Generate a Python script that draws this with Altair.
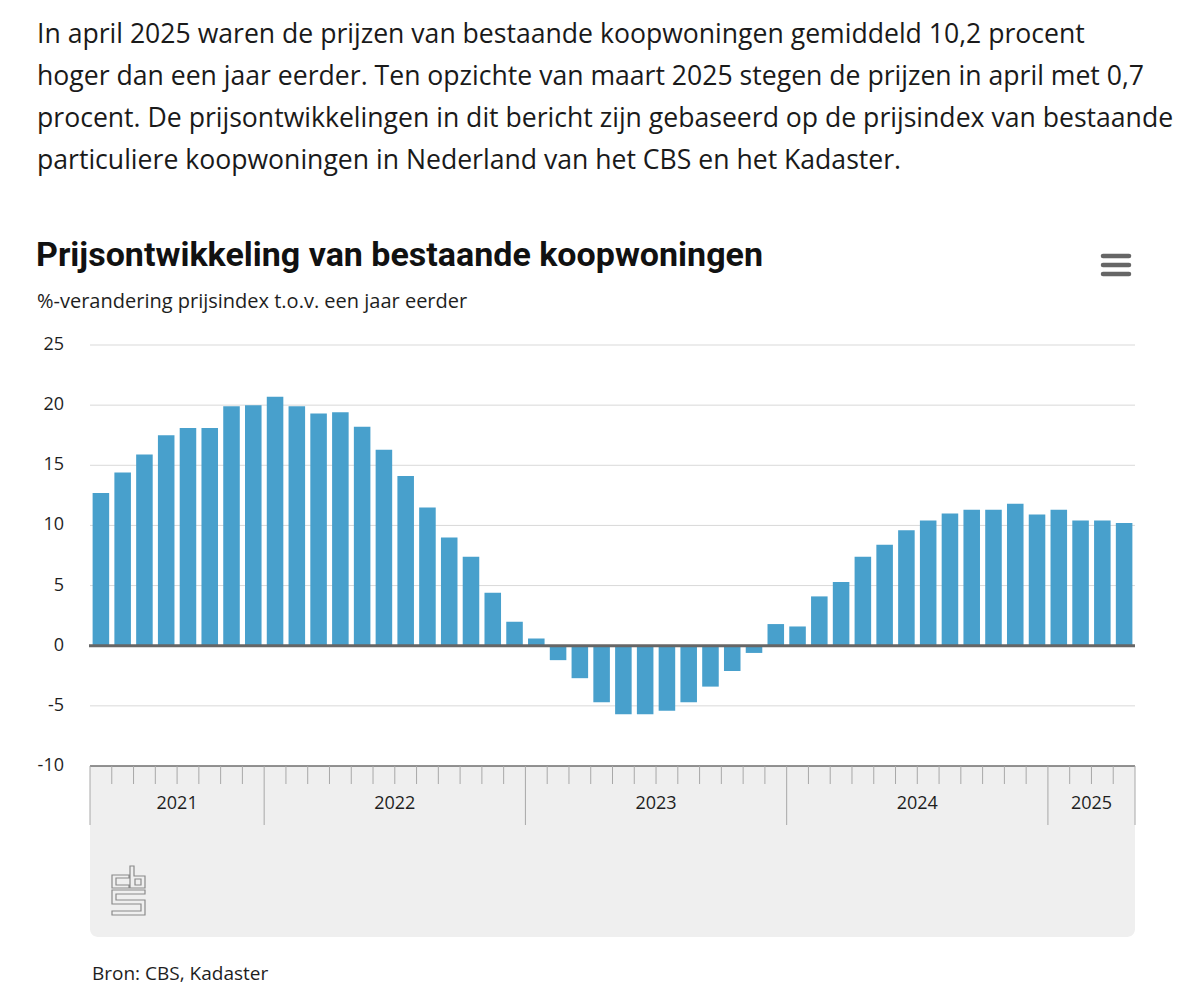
import altair as alt
import pandas as pd

# Yearly groups shown on the x axis and the number of months per group
years = ["2021", "2022", "2023", "2024", "2025"]
months_in_year = [8, 12, 12, 12, 4]
first_month = [5, 1, 1, 1, 1]

# %-change of the price index compared with one year earlier (May 2021 - April 2025)
change = [
    12.7, 14.4, 15.9, 17.5, 18.1, 18.1, 19.9, 20.0,
    20.7, 19.9, 19.3, 19.4, 18.2, 16.3, 14.1, 11.5, 9.0, 7.4, 4.4, 2.0,
    0.6, -1.2, -2.7, -4.7, -5.7, -5.7, -5.4, -4.7, -3.4, -2.1, -0.6, 1.8,
    1.6, 4.1, 5.3, 7.4, 8.4, 9.6, 10.4, 11.0, 11.3, 11.3, 11.8, 10.9,
    11.3, 10.4, 10.4, 10.2,
]

y_ticks = [-10, -5, 0, 5, 10, 15, 20, 25]
y_tick_labels = ["-10", "-5", "0", "5", "10", "15", "20", "25"]

paragraph = [
    "In april 2025 waren de prijzen van bestaande koopwoningen gemiddeld 10,2 procent",
    "hoger dan een jaar eerder. Ten opzichte van maart 2025 stegen de prijzen in april met 0,7",
    "procent. De prijsontwikkelingen in dit bericht zijn gebaseerd op de prijsindex van bestaande",
    "particuliere koopwoningen in Nederland van het CBS en het Kadaster.",
]
title = "Prijsontwikkeling van bestaande koopwoningen"
subtitle = "%-verandering prijsindex t.o.v. een jaar eerder"
source = "Bron: CBS, Kadaster"

# ---- tables -------------------------------------------------------------
rows = []
for yr, n, m0 in zip(years, months_in_year, first_month):
    for k in range(n):
        rows.append({"periode": f"{yr}-{m0 + k:02d}"})
bars = pd.DataFrame(rows)
bars["idx"] = range(len(bars))
bars["x0"] = bars["idx"] + 0.12
bars["x1"] = bars["idx"] + 0.88
bars["waarde"] = change

n_months = len(bars)
boundaries = []
year_mid = []
pos = 0
for yr, n in zip(years, months_in_year):
    year_mid.append({"jaar": yr, "mid": pos + n / 2})
    boundaries.append({"b": pos, "soort": "jaar"})
    for k in range(1, n):
        boundaries.append({"b": pos + k, "soort": "maand"})
    pos += n
boundaries.append({"b": pos, "soort": "jaar"})
bounds = pd.DataFrame(boundaries)
mids = pd.DataFrame(year_mid)
ticks = pd.DataFrame({"v": y_ticks, "label": y_tick_labels})
grid = pd.DataFrame({"v": [t for t in y_ticks if t not in (-10, 0)]})

# ---- scales mapped straight onto page pixels -----------------------------
L, R, TOP, BOT = 90, 1135, 345, 766
xs = alt.Scale(domain=[0, n_months], range=[L, R], nice=False, zero=False)
ys = alt.Scale(domain=[-10, 25], range=[BOT, TOP], nice=False, zero=False)

FONT = "Open Sans"
one = pd.DataFrame({"a": [0]})

strip = alt.Chart(one).mark_rect(
    color="#efefef", cornerRadiusBottomLeft=8, cornerRadiusBottomRight=8
).encode(x=alt.value(L), x2=alt.value(R), y=alt.value(BOT), y2=alt.value(937))

gridlines = alt.Chart(grid).mark_rule(color="#d9d9d9", strokeWidth=1).encode(
    x=alt.value(L), x2=alt.value(R), y=alt.Y("v:Q", scale=ys, axis=None)
)

base_line = alt.Chart(pd.DataFrame({"v": [-10]})).mark_rule(
    color="#6e6e6e", strokeWidth=1.5
).encode(x=alt.value(L), x2=alt.value(R), y=alt.Y("v:Q", scale=ys, axis=None))

month_ticks = alt.Chart(bounds).transform_filter(
    alt.datum.soort == "maand"
).mark_rule(color="#a8a8a8", strokeWidth=1).encode(
    x=alt.X("b:Q", scale=xs, axis=None), y=alt.value(BOT), y2=alt.value(784)
)

year_ticks = alt.Chart(bounds).transform_filter(
    alt.datum.soort == "jaar"
).mark_rule(color="#a8a8a8", strokeWidth=1).encode(
    x=alt.X("b:Q", scale=xs, axis=None), y=alt.value(BOT), y2=alt.value(825)
)

columns = alt.Chart(bars).mark_rect(color="#48a0cc").encode(
    x=alt.X("x0:Q", scale=xs, axis=None),
    x2="x1:Q",
    y=alt.Y("waarde:Q", scale=ys, axis=None),
    y2=alt.datum(0),
    tooltip=["periode:N", "waarde:Q"],
)

zero_line = alt.Chart(pd.DataFrame({"v": [0]})).mark_rule(
    color="#666666", strokeWidth=3
).encode(x=alt.value(L - 1), x2=alt.value(R), y=alt.Y("v:Q", scale=ys, axis=None))

y_labels = alt.Chart(ticks).mark_text(
    align="right", baseline="middle", font=FONT, fontSize=18, color="#1e1e1e"
).encode(
    x=alt.value(64), y=alt.Y("v:Q", scale=ys, axis=None), text="label:N"
)

year_labels = alt.Chart(mids).mark_text(
    align="center", baseline="middle", font=FONT, fontSize=18, color="#1e1e1e"
).encode(x=alt.X("mid:Q", scale=xs, axis=None), y=alt.value(804), text="jaar:N")

intro = alt.Chart(one).mark_text(
    align="left", baseline="alphabetic", font=FONT, fontSize=26.6,
    lineHeight=42, color="#1a1a1a"
).encode(x=alt.value(37), y=alt.value(43), text=alt.value(paragraph))

head = alt.Chart(one).mark_text(
    align="left", baseline="alphabetic", font="Roboto", fontSize=34,
    fontWeight="bold", color="#111111"
).encode(x=alt.value(36), y=alt.value(266), text=alt.value(title))

sub = alt.Chart(one).mark_text(
    align="left", baseline="alphabetic", font=FONT, fontSize=20, color="#1e1e1e"
).encode(x=alt.value(37), y=alt.value(308), text=alt.value(subtitle))

bron = alt.Chart(one).mark_text(
    align="left", baseline="alphabetic", font=FONT, fontSize=19, color="#1e1e1e"
).encode(x=alt.value(92), y=alt.value(980), text=alt.value(source))

menu = alt.Chart(pd.DataFrame({"py": [256, 265, 274]})).mark_rule(
    color="#666666", strokeWidth=4.5, strokeCap="round"
).encode(
    x=alt.value(1103), x2=alt.value(1129),
    y=alt.Y("py:Q", scale=None, axis=None),
)

# CBS logo outline, built from pixel polylines and normalised to a symbol path
cx, cy, r = 128.5, 890.5, 25.5
shapes = [
    [(129, 875), (112, 875), (112, 888), (129, 888), (129, 885), (116, 885), (116, 878), (129, 878)],
    [(130, 866), (134, 866), (134, 876), (145, 876), (145, 888), (130, 888)],
    [(135, 879), (141, 879), (141, 885), (135, 885)],
    [(145, 890), (112, 890), (112, 904), (141, 904), (141, 911), (112, 911),
     (112, 915), (145, 915), (145, 900), (116, 900), (116, 894), (145, 894)],
]
path = ""
for poly in shapes:
    pts = [f"{(px - cx) / r:.4f},{(py - cy) / r:.4f}" for px, py in poly]
    path += "M" + " L".join(pts) + " Z "
logo = alt.Chart(one).mark_point(
    shape=path.strip(), size=(2 * r) ** 2, filled=False,
    color="#8a8a8a", strokeWidth=1.2, opacity=1
).encode(x=alt.value(cx), y=alt.value(cy))

chart = alt.layer(
    strip, gridlines, base_line, month_ticks, year_ticks, columns, zero_line,
    y_labels, year_labels, intro, head, sub, bron, menu, logo,
).resolve_scale(y="independent").properties(
    width=1200, height=1000, padding=0,
    autosize=alt.AutoSizeParams(type="none"), background="white",
).configure_view(stroke=None)

chart.save("out.html", embed_options={"renderer": "svg", "actions": False})
